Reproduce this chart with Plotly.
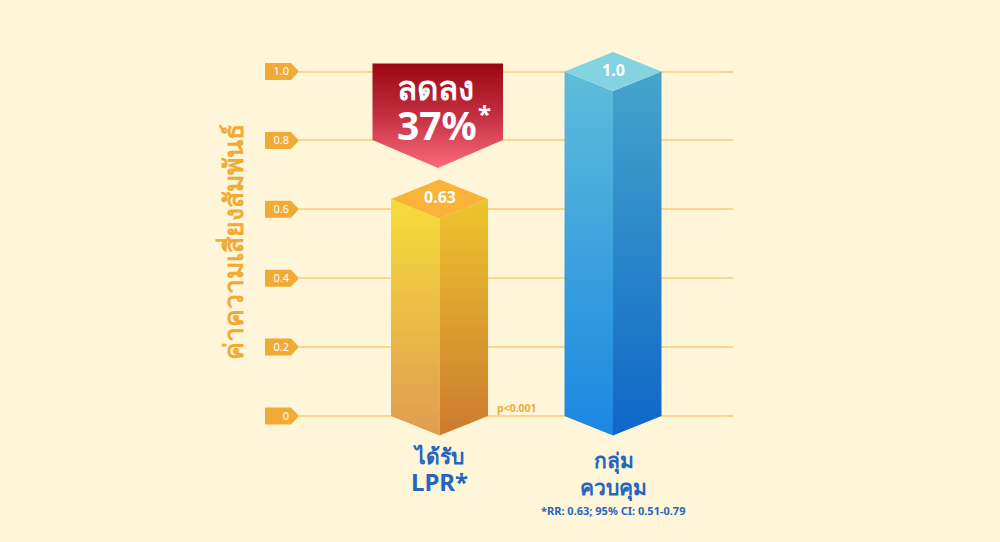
import plotly.graph_objects as go

# --- data ---
category_line1 = ["ได้รับ", "กลุ่ม"]
category_line2 = ["LPR*", "ควบคุม"]
values = [0.63, 1.0]
value_labels = ["0.63", "1.0"]
tick_values = [0, 0.2, 0.4, 0.6, 0.8, 1.0]
tick_labels = ["0", "0.2", "0.4", "0.6", "0.8", "1.0"]
y_title = "ค่าความเสี่ยงสัมพันธ์"
badge_word = "ลดลง"
badge_value = "37%"
badge_star = "*"
p_note = "p<0.001"
ci_note = "*RR: 0.63; 95% CI: 0.51-0.79"

# --- page geometry ---
W, H = 1000, 542
Y0, Y1 = 416.0, 71.5          # pixel rows of 0 and 1.0
X0, XU = 439.5, 173.5         # pixel column of category 0, pixels per category
PX_Y = Y0 - Y1
GRID_L, GRID_R = 298, 733
HALF = 48.5 / XU              # half width of a prism
DY = 19.5 / PX_Y              # half height of the prism's top diamond


def yd(px):
    return (Y0 - px) / PX_Y


def xd(px):
    return (px - X0) / XU


FONT = "Noto Sans, DejaVu Sans, sans-serif"
BG = "#FFF5D9"
ORANGE = "#EFAB35"
BLUE = "#2465BE"

styles = [
    dict(top="#F9B338", l=("#F6DC3A", "#E09C52"), r=("#EEC42E", "#CB7B2E")),
    dict(top="#84D3E0", l=("#5FBDDA", "#1A87E2"), r=("#45A5CB", "#0F66C8")),
]

fig = go.Figure()


def face(xs, ys, cols, lo, hi):
    fig.add_trace(go.Scatter(
        x=xs, y=ys, mode="lines", fill="toself", line=dict(width=0),
        fillgradient=dict(type="vertical", start=hi, stop=lo,
                          colorscale=[[0, cols[0]], [1, cols[1]]]),
        hoverinfo="skip", showlegend=False))


for i, (v, st) in enumerate(zip(values, styles)):
    l, c, r = i - HALF, i, i + HALF
    face([l, c, c, l, l], [v, v - DY, -DY, 0, v], st["l"], -DY, v)
    face([c, r, r, c, c], [v - DY, v, 0, -DY, v - DY], st["r"], -DY, v)
    fig.add_trace(go.Scatter(
        x=[l, c, r, c, l], y=[v, v + DY, v, v - DY, v], mode="lines", fill="toself",
        fillcolor=st["top"], line=dict(width=0), hoverinfo="skip", showlegend=False))

# reduction badge
bl, br, bc = xd(372.5), xd(503), xd(438)
fig.add_trace(go.Scatter(
    x=[bl, br, br, bc, bl, bl],
    y=[yd(63.5), yd(63.5), yd(140), yd(168), yd(140), yd(63.5)],
    mode="lines", fill="toself", line=dict(width=0),
    fillgradient=dict(type="vertical", start=yd(63.5), stop=yd(168),
                      colorscale=[[0, "#9A0712"], [0.5, "#C42F40"], [1, "#FA6B7C"]]),
    hoverinfo="skip", showlegend=False))

# tick tags
shapes = []
for t in tick_values:
    a = 8.5 / PX_Y
    shapes.append(dict(
        type="path", xref="paper", yref="y", layer="below", line=dict(width=0), fillcolor=ORANGE,
        path=f"M {265/W} {t+a} L {291/W} {t+a} L {299/W} {t} L {291/W} {t-a} L {265/W} {t-a} Z"))


def note(text, px, py, size, color, family=FONT):
    return dict(text=text, xref="paper", yref="y", x=px / W, y=yd(py), showarrow=False,
                font=dict(size=size, color=color, family=family))


annotations = [
    dict(note(f"<b>{y_title}</b>", 213, 242, 26.5, ORANGE), textangle=-90),
    note(f"<b>{p_note}</b>", 517, 408, 10.5, ORANGE),
    note(f"<b>{ci_note}</b>", 613, 510, 11, BLUE),
    note(f"<b>{badge_word}</b>", 435.5, 87, 33, "white"),
    note(f"<b>{badge_value}</b>", 437, 124, 39, "white"),
    note(f"<b>{badge_star}</b>", 484, 113, 24, "white"),
]
for i, (v, lab) in enumerate(zip(values, value_labels)):
    annotations.append(dict(text=f"<b>{lab}</b>", x=i, y=v, xref="x", yref="y", yshift=2, showarrow=False,
                            font=dict(size=16, color="white", family=FONT)))
for i, (a, b, py, s2) in enumerate(zip(category_line1, category_line2, [470, 474], [24, 21])):
    annotations.append(dict(text=f"<b>{a}</b><br><b><span style='font-size:{s2}px'>{b}</span></b>",
                            x=i, y=yd(py), xref="x", yref="y", showarrow=False,
                            font=dict(size=21, color=BLUE, family=FONT)))

fig.update_layout(
    width=W, height=H, margin=dict(l=0, r=0, t=0, b=0),
    paper_bgcolor=BG, plot_bgcolor=BG, hovermode=False, showlegend=False,
    shapes=shapes, annotations=annotations,
    xaxis=dict(domain=[GRID_L / W, GRID_R / W], range=[xd(GRID_L), xd(GRID_R)], visible=False, fixedrange=True),
    yaxis=dict(domain=[0, 1], range=[yd(H), yd(0)], tickmode="array", tickvals=tick_values, ticktext=tick_labels,
               showgrid=True, gridcolor="#FAD78F", gridwidth=1.5, zeroline=False, showline=False, ticks="",
               ticklabelstandoff=8, tickfont=dict(size=11, color="white", family=FONT), fixedrange=True),
)
fig.write_html("out.html", config=dict(displayModeBar=False),
               post_script="document.body.style.margin='0';document.body.style.overflow='hidden';"
                           f"document.body.style.background='{BG}';")
